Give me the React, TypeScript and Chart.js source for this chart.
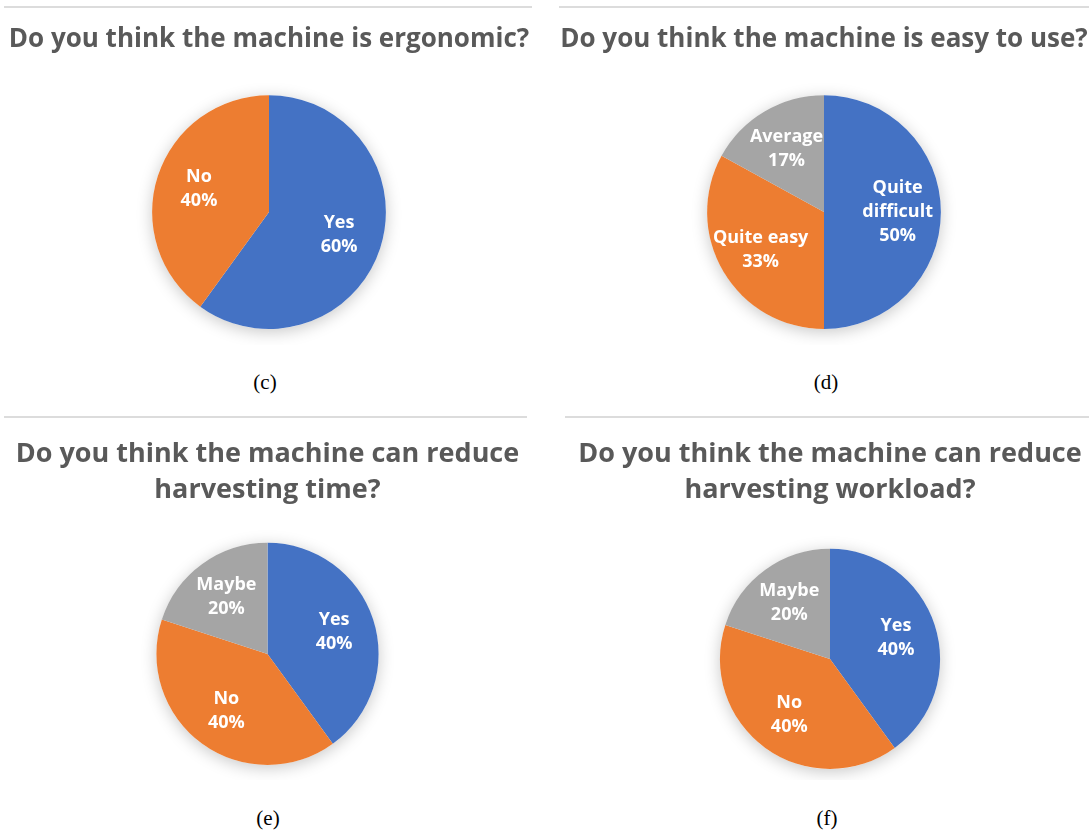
import React, { useEffect, useRef } from "react";
import { Chart, registerables } from "chart.js";

Chart.register(...registerables);

// ---- data ----
const ergoCategories = ["Yes", "No"];
const ergoValues = [60, 40];

const easeCategories = ["Quite\ndifficult", "Quite easy", "Average"];
const easeValues = [50, 33, 17];

const timeCategories = ["Yes", "No", "Maybe"];
const timeValues = [40, 40, 20];

const workloadCategories = ["Yes", "No", "Maybe"];
const workloadValues = [40, 40, 20];

const sliceColors = ["#4472C4", "#ED7D31", "#A5A5A5"];

const titleC = ["Do you think the machine is ergonomic?"];
const titleD = ["Do you think the machine is easy to use?"];
const titleE = ["Do you think the machine can reduce", "harvesting time?"];
const titleF = ["Do you think the machine can reduce", "harvesting workload?"];

const captions = ["(c)", "(d)", "(e)", "(f)"];

// ---- plugins ----
const pieShadow = {
  id: "pieShadow",
  beforeDatasetsDraw(chart: any) {
    const arc = chart.getDatasetMeta(0).data[0] as any;
    if (!arc) return;
    const { x, y, outerRadius } = arc;
    const ctx = chart.ctx;
    ctx.save();
    ctx.shadowColor = "rgba(0,0,0,0.22)";
    ctx.shadowBlur = 16;
    ctx.shadowOffsetY = 3;
    ctx.beginPath();
    ctx.arc(x, y, outerRadius, 0, Math.PI * 2);
    ctx.fillStyle = "#ffffff";
    ctx.fill();
    ctx.restore();
  },
};

const sliceLabels = {
  id: "sliceLabels",
  afterDatasetsDraw(chart: any) {
    const ctx = chart.ctx;
    const meta = chart.getDatasetMeta(0);
    const ds = chart.data.datasets[0];
    const labels = chart.data.labels as string[];
    ctx.save();
    ctx.fillStyle = "#ffffff";
    ctx.font = "bold 18px 'Open Sans', sans-serif";
    ctx.textAlign = "center";
    ctx.textBaseline = "middle";
    meta.data.forEach((arc: any, i: number) => {
      const { x, y, startAngle, endAngle, outerRadius } = arc;
      const mid = (startAngle + endAngle) / 2;
      const r = outerRadius * 0.63;
      const cx = x + Math.cos(mid) * r;
      const cy = y + Math.sin(mid) * r;
      const lines = [...String(labels[i]).split("\n"), `${ds.data[i]}%`];
      const lh = 24;
      const top = cy - ((lines.length - 1) * lh) / 2;
      lines.forEach((t, k) => ctx.fillText(t, cx, top + k * lh));
    });
    ctx.restore();
  },
};

type PanelProps = {
  categories: string[];
  values: number[];
  title: string[];
  left: number;
  top: number;
  width: number;
  height: number;
  titleSize: number;
  titleTop: number;
  titleBottom: number;
  titleLineHeight: number;
  padBottom: number;
};

function PiePanel(p: PanelProps) {
  const ref = useRef<HTMLCanvasElement | null>(null);
  useEffect(() => {
    if (!ref.current) return;
    const chart = new Chart(ref.current, {
      type: "pie",
      data: {
        labels: p.categories,
        datasets: [
          {
            data: p.values,
            backgroundColor: sliceColors.slice(0, p.values.length),
            borderWidth: 0,
          },
        ],
      },
      options: {
        responsive: false,
        animation: false,
        devicePixelRatio: 1,
        layout: { padding: { top: 0, bottom: p.padBottom, left: 0, right: 0 } },
        plugins: {
          legend: { display: false },
          tooltip: { enabled: false },
          title: {
            display: true,
            text: p.title,
            color: "#595959",
            font: {
              family: "'Open Sans', sans-serif",
              size: p.titleSize,
              weight: "bold",
              lineHeight: p.titleLineHeight,
            },
            padding: { top: p.titleTop, bottom: p.titleBottom },
          },
        },
      },
      plugins: [pieShadow, sliceLabels],
    });
    return () => chart.destroy();
  }, []);
  return (
    <canvas
      ref={ref}
      width={p.width}
      height={p.height}
      style={{ position: "absolute", left: p.left, top: p.top, width: p.width, height: p.height, display: "block" }}
    />
  );
}

const lineStyle = (left: number, top: number, width: number): React.CSSProperties => ({
  position: "absolute",
  left,
  top,
  width,
  height: 2,
  background: "#dcdcdc",
});

const captionStyle = (cx: number, cy: number): React.CSSProperties => ({
  position: "absolute",
  left: cx - 30,
  top: cy - 13,
  width: 60,
  textAlign: "center",
  fontFamily: "'Liberation Serif', 'Times New Roman', serif",
  fontSize: 21,
  lineHeight: "26px",
  color: "#000",
});

export default function App() {
  useEffect(() => {
    document.body.style.margin = "0";
    document.body.style.background = "#ffffff";
  }, []);
  return (
    <div style={{ position: "relative", width: 1089, height: 834, background: "#fff", overflow: "hidden" }}>
      <div style={lineStyle(4, 6, 528)} />
      <div style={lineStyle(559, 6, 530)} />
      <div style={lineStyle(4, 416, 523)} />
      <div style={lineStyle(565, 416, 524)} />

      <PiePanel categories={ergoCategories} values={ergoValues} title={titleC}
        left={4} top={0} width={530} height={345} titleSize={26} titleTop={24} titleBottom={40} titleLineHeight={1.2} padBottom={16} />
      <PiePanel categories={easeCategories} values={easeValues} title={titleD}
        left={559} top={0} width={530} height={345} titleSize={26} titleTop={24} titleBottom={40} titleLineHeight={1.2} padBottom={16} />
      <PiePanel categories={timeCategories} values={timeValues} title={titleE}
        left={6} top={420} width={523} height={360} titleSize={27} titleTop={16} titleBottom={35} titleLineHeight={1.33} padBottom={15} />
      <PiePanel categories={workloadCategories} values={workloadValues} title={titleF}
        left={571} top={420} width={518} height={360} titleSize={27} titleTop={16} titleBottom={41} titleLineHeight={1.33} padBottom={11} />

      <div style={captionStyle(265, 382)}>{captions[0]}</div>
      <div style={captionStyle(826, 382)}>{captions[1]}</div>
      <div style={captionStyle(268, 818)}>{captions[2]}</div>
      <div style={captionStyle(827, 818)}>{captions[3]}</div>
    </div>
  );
}
